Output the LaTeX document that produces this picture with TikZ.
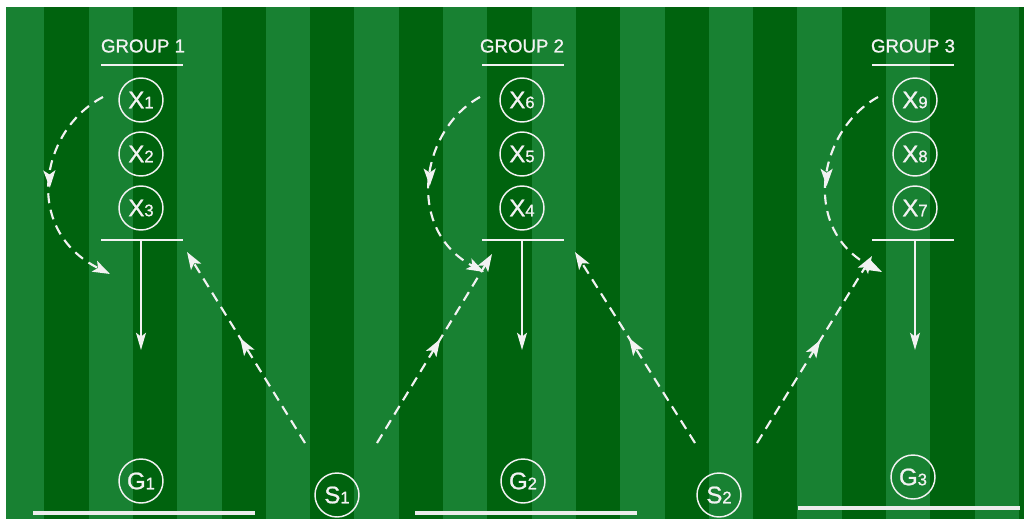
\documentclass[tikz,border=0pt]{standalone}
\usepackage{fontspec}
\setmainfont{Liberation Sans}
\newfontfamily\chalkfont{Liberation Sans}[FakeBold=0.9]
\usetikzlibrary{arrows.meta,decorations.markings}
\definecolor{lightg}{RGB}{24,129,50}
\definecolor{darkg}{RGB}{0,99,14}
\definecolor{chalk}{RGB}{242,242,242}
\newcommand\plabel[2]{\chalkfont{\fontsize{18}{18}\selectfont #1}{\fontsize{12.5}{12.5}\selectfont #2}}
\tikzset{
  player/.style={circle, draw=chalk, line width=1.1pt, minimum size=33pt, inner sep=0pt, text=chalk},
  grouplbl/.style={text=chalk, font=\chalkfont\fontsize{14}{14}\selectfont, inner sep=0pt},
  barline/.style={draw=chalk, line width=1.2pt},
  goalline/.style={draw=chalk!95!gray, line width=3pt},
  runline/.style={draw=chalk, line width=1.1pt, -{Stealth[length=13pt,width=7.5pt,inset=3pt]}},
  passline/.style={color=chalk, line width=1.6pt, dash pattern=on 7.5pt off 5pt, -{Stealth[length=13pt,width=9pt,inset=3pt]}},
  midarrow/.style={postaction={decorate}, decoration={markings, mark=at position #1 with {\arrow[chalk]{Stealth[length=13pt,width=9pt,inset=3pt]}}}}
}
\begin{document}
\begin{tikzpicture}[x=0.75pt,y=-0.75pt]
\useasboundingbox (0,0) rectangle (1024,519);
\fill[white] (0,0) rectangle (1024,519);
\begin{scope}
\clip (6,7) rectangle (1024,519);
\foreach \k in {0,...,23}{
  \pgfmathsetmacro\xa{44.3*\k}
  \pgfmathsetmacro\xb{44.3*(\k+1)}
  \ifodd\k
    \fill[darkg] (\xa,0) rectangle (\xb,519);
  \else
    \fill[lightg] (\xa,0) rectangle (\xb,519);
  \fi
}
\end{scope}

% Group 1
\node[grouplbl] (t1) at (143,46) {GROUP 1};
\draw[barline] (101,65) -- (183,65);
\node[player] (x1) at (141,100) {\plabel{X}{1}};
\node[player] (x2) at (141,154) {\plabel{X}{2}};
\node[player] (x3) at (141,208) {\plabel{X}{3}};
\draw[barline] (101,240) -- (183,240);
\coordinate (b1) at (141,240);
\coordinate (e1) at (141,350);
\draw[runline] (b1) -- (e1);

% Group 2
\node[grouplbl] (t2) at (522,46) {GROUP 2};
\draw[barline] (482,65) -- (564,65);
\node[player] (x6) at (522,100) {\plabel{X}{6}};
\node[player] (x5) at (522,154) {\plabel{X}{5}};
\node[player] (x4) at (522,208) {\plabel{X}{4}};
\draw[barline] (482,240) -- (564,240);
\coordinate (b2) at (522,240);
\coordinate (e2) at (522,350);
\draw[runline] (b2) -- (e2);

% Group 3
\node[grouplbl] (t3) at (913,46) {GROUP 3};
\draw[barline] (872,65) -- (954,65);
\node[player] (x9) at (915,100) {\plabel{X}{9}};
\node[player] (x8) at (915,154) {\plabel{X}{8}};
\node[player] (x7) at (915,208) {\plabel{X}{7}};
\draw[barline] (872,240) -- (954,240);
\coordinate (b3) at (915,240);
\coordinate (e3) at (915,350);
\draw[runline] (b3) -- (e3);

% Goals and servers
\node[player] (g1) at (141,481) {\plabel{G}{1}};
\node[player] (g2) at (523,481) {\plabel{G}{2}};
\node[player] (g3) at (913,477) {\plabel{G}{3}};
\node[player] (s1) at (337,495) {\plabel{S}{1}};
\node[player] (s2) at (719,495) {\plabel{S}{2}};
\draw[goalline] (33,513) -- (255,513);
\draw[goalline] (415,513) -- (637,513);
\draw[goalline] (798,508) -- (1020,508);

% curved runs
\coordinate (a1s) at (103,97);  \coordinate (a1e) at (110,274);
\coordinate (a2s) at (480,97);  \coordinate (a2e) at (484,272);
\coordinate (a3s) at (878,97);  \coordinate (a3e) at (882,272);
\draw[passline, midarrow=0.5] (a1s) .. controls (40,130) and (22,230) .. (a1e);
\draw[passline, midarrow=0.5] (a2s) .. controls (420,130) and (405,230) .. (a2e);
\draw[passline, midarrow=0.5] (a3s) .. controls (818,130) and (800,230) .. (a3e);

% passes from servers
\coordinate (p1a) at (305,443); \coordinate (q1a) at (187,252);
\coordinate (p1b) at (377,443); \coordinate (q1b) at (492,254);
\coordinate (p2a) at (695,443); \coordinate (q2a) at (575,252);
\coordinate (p2b) at (757,443); \coordinate (q2b) at (872,256);
\draw[passline, midarrow=0.55] (p1a) -- (q1a);
\draw[passline, midarrow=0.55] (p1b) -- (q1b);
\draw[passline, midarrow=0.55] (p2a) -- (q2a);
\draw[passline, midarrow=0.55] (p2b) -- (q2b);
\end{tikzpicture}
\end{document}
